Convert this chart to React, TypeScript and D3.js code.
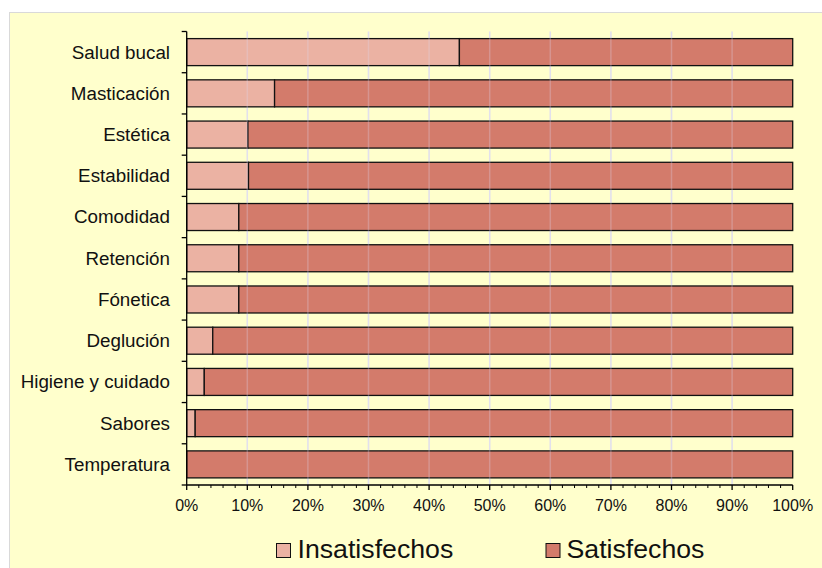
import React from "react";
import * as d3 from "d3";

const categories = [
  "Salud bucal",
  "Masticación",
  "Estética",
  "Estabilidad",
  "Comodidad",
  "Retención",
  "Fónetica",
  "Deglución",
  "Higiene y cuidado",
  "Sabores",
  "Temperatura",
];
const insatisfechos = [45, 14.5, 10.1, 10.2, 8.6, 8.6, 8.6, 4.3, 2.9, 1.4, 0];
const satisfechos = [55, 85.5, 89.9, 89.8, 91.4, 91.4, 91.4, 95.7, 97.1, 98.6, 100];
const seriesNames = ["Insatisfechos", "Satisfechos"];
const xTicks = [0, 10, 20, 30, 40, 50, 60, 70, 80, 90, 100];

const W = 822;
const H = 568;
const left = 186.7;
const right = 792.7;
const top = 31.5;
const bottom = 485;
const colors = ["#EBB2A3", "#D37B6B"];
const font = "'Liberation Sans', Arial, sans-serif";

export default function App() {
  const x = d3.scaleLinear().domain([0, 100]).range([left, right]);
  const y = d3
    .scaleBand<string>()
    .domain(categories)
    .range([top, bottom])
    .paddingInner(0.345)
    .paddingOuter(0.1725);
  const minor = d3.range(0, 101, 2).filter((v) => v % 10 !== 0);
  const bandEdges = categories.map((_, i) => top + i * y.step()).concat([bottom]);

  return (
    <svg
      width={W}
      height={H}
      style={{ position: "absolute", left: 0, top: 0, background: "#fff" }}
      fontFamily={font}
    >
      <rect x={9.5} y={12.5} width={W} height={H} fill="#FFFFCC" stroke="#d9d9d9" strokeWidth={1} />
      {xTicks.slice(1, -1).map((t) => (
        <line key={"b" + t} x1={x(t)} x2={x(t)} y1={top} y2={bottom} stroke="#e4e4ec" strokeWidth={1.5} />
      ))}
      {categories.map((c, i) => {
        const y0 = y(c)!;
        const h = y.bandwidth();
        const a = insatisfechos[i];
        const b = satisfechos[i];
        return (
          <g key={c}>
            {a > 0 && (
              <rect x={x(0)} y={y0} width={x(a) - x(0)} height={h} fill={colors[0]} stroke="#111" strokeWidth={1.3} />
            )}
            <rect x={x(a)} y={y0} width={x(a + b) - x(a)} height={h} fill={colors[1]} stroke="#111" strokeWidth={1.3} />
          </g>
        );
      })}
      {xTicks.slice(1, -1).map((t) => (
        <line key={t} x1={x(t)} x2={x(t)} y1={top} y2={bottom} stroke="#e0d8f0" strokeOpacity={0.28} strokeWidth={1.5} />
      ))}
      {/* y axis */}
      <line x1={left} x2={left} y1={top} y2={bottom} stroke="#000" strokeWidth={1.3} />
      {bandEdges.map((e, i) => (
        <line key={i} x1={left - 5} x2={left} y1={e} y2={e} stroke="#000" strokeWidth={1.3} />
      ))}
      {categories.map((c) => (
        <text key={c} x={170} y={y(c)! + y.bandwidth() / 2} dy="0.34em" textAnchor="end" fontSize={18.8} fill="#111">
          {c}
        </text>
      ))}
      {/* x axis */}
      <line x1={left} x2={right} y1={bottom} y2={bottom} stroke="#000" strokeWidth={1.3} />
      {xTicks.map((t) => (
        <line key={t} x1={x(t)} x2={x(t)} y1={bottom} y2={bottom + 5} stroke="#000" strokeWidth={1.3} />
      ))}
      {minor.map((t) => (
        <line key={t} x1={x(t)} x2={x(t)} y1={bottom} y2={bottom + 3} stroke="#000" strokeWidth={1} />
      ))}
      {xTicks.map((t) => (
        <text key={t} x={x(t)} y={511} textAnchor="middle" fontSize={16} fill="#111">
          {t}%
        </text>
      ))}
      {/* legend */}
      <rect x={276.5} y={543.5} width={14} height={14} fill={colors[0]} stroke="#111" strokeWidth={1} />
      <text x={297.5} y={558} fontSize={26.7} fill="#111">{seriesNames[0]}</text>
      <rect x={546} y={543.5} width={14} height={14} fill={colors[1]} stroke="#111" strokeWidth={1} />
      <text x={566.5} y={558} fontSize={26.7} fill="#111">{seriesNames[1]}</text>
    </svg>
  );
}
